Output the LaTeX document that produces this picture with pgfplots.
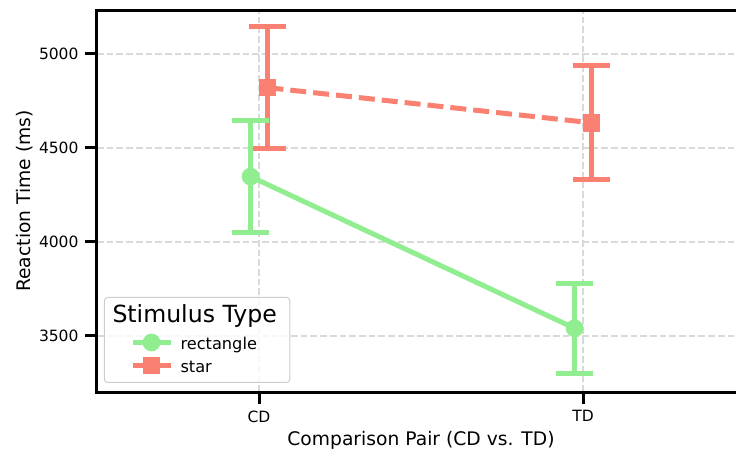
\documentclass[border=0pt]{standalone}
\usepackage{pgfplots}
\pgfplotsset{compat=1.18}
\usepackage{fontspec}
\setmainfont{DejaVu Sans}
\definecolor{lgreen}{HTML}{90EE90}
\definecolor{salmon}{HTML}{FA8072}
\begin{document}
\begin{tikzpicture}
\begin{axis}[
  scale only axis,
  width=648pt, height=382pt,
  xmin=-0.5, xmax=1.5, ymin=3202, ymax=5234,
  xtick={0,1}, xticklabels={CD,TD},
  ytick={3500,4000,4500,5000},
  /pgf/number format/assume math mode=true,
  /pgf/number format/1000 sep={},
  tick label style={font=\fontsize{15.5}{18}\selectfont},
  yticklabel style={xshift=-3pt},
  xticklabel style={yshift=-3pt},
  label style={font=\fontsize{18.7}{22}\selectfont},
  xlabel={Comparison Pair (CD vs. TD)},
  ylabel={Reaction Time (ms)},
  xlabel style={at={(axis description cs:0.5,0)}, anchor=base, yshift=-53pt, inner sep=0pt},
  ylabel style={at={(axis description cs:-0.0988,0.5)}, anchor=south, inner sep=0pt},
  axis line style={line width=3pt},
  tick align=outside,
  major tick length=12pt,
  tick style={line width=3pt, black},
  xtick pos=bottom, ytick pos=left,
  grid=major,
  major grid style={line width=1.6pt, color=gray!30, dash pattern=on 6.7pt off 3pt},
  legend style={font=\fontsize{16.2}{19}\selectfont, draw=black!20, rounded corners=3pt, line width=1pt,
    fill=white, fill opacity=0.8, text opacity=1, draw opacity=1,
    at={(0.0108,0.0236)}, anchor=south west, inner sep=0pt, row sep=0pt, column sep=0pt,
    nodes={inner sep=0pt, text height=13pt, text depth=10pt}},
  legend cell align=left,
  legend image code/.code={
    \path[draw=none, fill=none] (-28pt,0pt) rectangle (48pt,1pt);
    \draw[overlay, mark repeat=2, mark phase=2, fill opacity=1, #1] plot coordinates {(0pt,5.5pt) (19pt,5.5pt) (38pt,5.5pt)};
  },
]
\addlegendimage{legend image code/.code={\path[draw=none, fill=none] (0pt,-15.5pt) rectangle (1pt,23.5pt);}}
\addlegendentry{\hspace*{-68pt}{\fontsize{23.6}{28}\selectfont Stimulus Type}\hspace*{13pt}}
\addlegendimage{lgreen, line width=5pt, mark=*, mark size=8.35pt, mark options={solid, line width=1pt, fill=lgreen}}
\addlegendentry{rectangle}
\addlegendimage{salmon, line width=5pt, dash pattern=on 16pt off 7pt, mark=square*, mark size=8.35pt, mark options={solid, line width=1pt, fill=salmon}}
\addlegendentry{star}

\addplot[forget plot, salmon, line width=5pt, dash pattern=on 16pt off 7pt,
  mark=square*, mark size=8.35pt, mark options={solid, line width=1pt, fill=salmon},
  error bars/.cd, y dir=both, y explicit,
  error bar style={line width=5pt, solid},
  error mark options={rotate=90, line width=5pt, mark size=18.8pt, solid}]
  table[x=x, y=y, y error=e] {
x y e
0.026 4821 323
1.026 4634 304
};
\addplot[forget plot, lgreen, line width=5pt,
  mark=*, mark size=8.35pt, mark options={solid, line width=1pt, fill=lgreen},
  error bars/.cd, y dir=both, y explicit,
  error bar style={line width=5pt, solid},
  error mark options={rotate=90, line width=5pt, mark size=18.8pt, solid}]
  table[x=x, y=y, y error=e] {
x y e
-0.026 4348 297
0.974 3541 239
};
\end{axis}
\pgfresetboundingbox
\path[use as bounding box] ([xshift=-97pt,yshift=-61pt]current axis.south west) rectangle ([xshift=-9pt,yshift=10pt]current axis.north east);
\end{tikzpicture}
\end{document}
